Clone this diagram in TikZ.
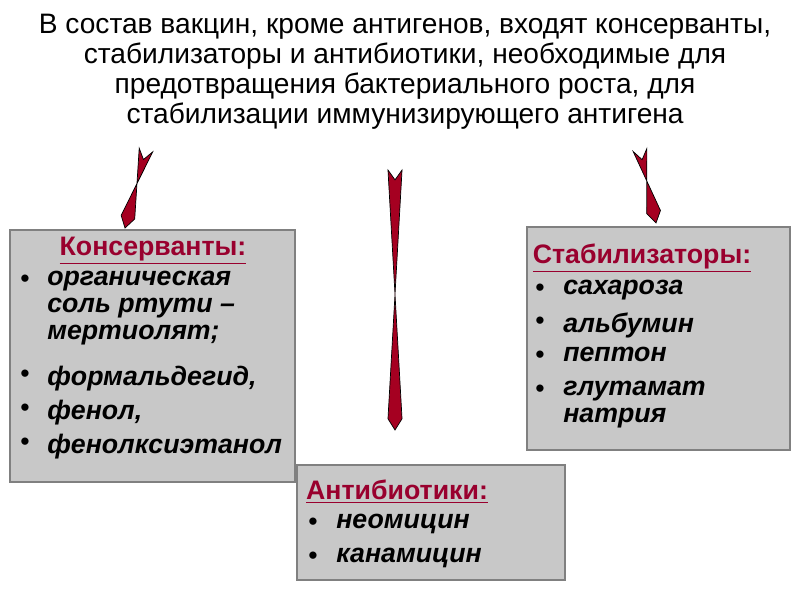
\documentclass[tikz,border=0pt]{standalone}
\usepackage{fontspec}
\setmainfont{Liberation Sans}
\usetikzlibrary{calc}
\definecolor{vacred}{HTML}{A50021}
\definecolor{vachead}{HTML}{99002E}
\definecolor{boxgray}{HTML}{C8C8C8}
\tikzset{
  vacbox/.style={draw=gray, fill=boxgray, line width=0.8pt},
  head/.style={font=\fontsize{19}{22}\selectfont\bfseries, text=vachead, anchor=north, inner sep=0pt},
  item/.style={font=\fontsize{19}{19.2}\selectfont\bfseries\itshape, anchor=north west, align=left, inner sep=0pt},
  dot/.style={font=\fontsize{19}{22}\selectfont, anchor=north west, inner sep=0pt}
}
% notched arrow from #1 to #2
\newcommand\vacarrow[2]{%
  \draw[fill=vacred, draw=black, line width=0.5pt]
    ($(#1)!5pt!90:(#2)$) -- ($(#1)!7pt!(#2)$) -- ($(#1)!5pt!-90:(#2)$)
    -- ($($(#2)!8pt!(#1)$)!5pt!90:(#2)$) -- (#2) -- ($($(#2)!8pt!(#1)$)!5pt!-90:(#2)$) -- cycle;
}
\begin{document}
\begin{tikzpicture}[x=0.025cm, y=-0.025cm]
\useasboundingbox (0,0) rectangle (800,600);

\node[align=center, font=\fontsize{20}{21.3}\selectfont] (title) at (405,72)
  {В состав вакцин, кроме антигенов, входят консерванты,\\
   стабилизаторы и антибиотики, необходимые для\\
   предотвращения бактериального роста, для\\
   стабилизации иммунизирующего антигена};

% boxes
\draw[vacbox] (10,230) rectangle (295,482);
\draw[vacbox] (527,227) rectangle (790,450);
\draw[vacbox] (297,465) rectangle (565,580);

% arrows
\coordinate (la) at (146,150); \coordinate (lb) at (125,228);
\coordinate (ca) at (395,170); \coordinate (cb) at (395,430);
\coordinate (ra) at (640,150); \coordinate (rb) at (656,223);
\vacarrow{la}{lb}
\vacarrow{ca}{cb}
\vacarrow{ra}{rb}

% left box
\node[head] (konh) at (153,237) {\underline{Консерванты:}};
\foreach \y/\t in {271/{органическая\\соль ртути –\\мертиолят;}, 366/{формальдегид,}, 400/{фенол,}, 434/фенолксиэтанол}
  {\node[dot] at (20,\y+4) {•}; \node[item] at (47,\y) {\t};}

% right box
\node[head] (stabh) at (642,244) {\underline{Стабилизаторы:}};
\foreach \y/\t in {280/сахароза, 313/альбумин, 347/пептон, 381/{глутамат\\натрия}}
  {\node[dot] at (535,\y+4) {•}; \node[item] at (563,\y) {\t};}

% bottom box
\node[head] (antih) at (397,480) {\underline{Антибиотики:}};
\foreach \y/\t in {514/неомицин, 548/канамицин}
  {\node[dot] at (308,\y+4) {•}; \node[item] at (336,\y) {\t};}
\end{tikzpicture}
\end{document}
